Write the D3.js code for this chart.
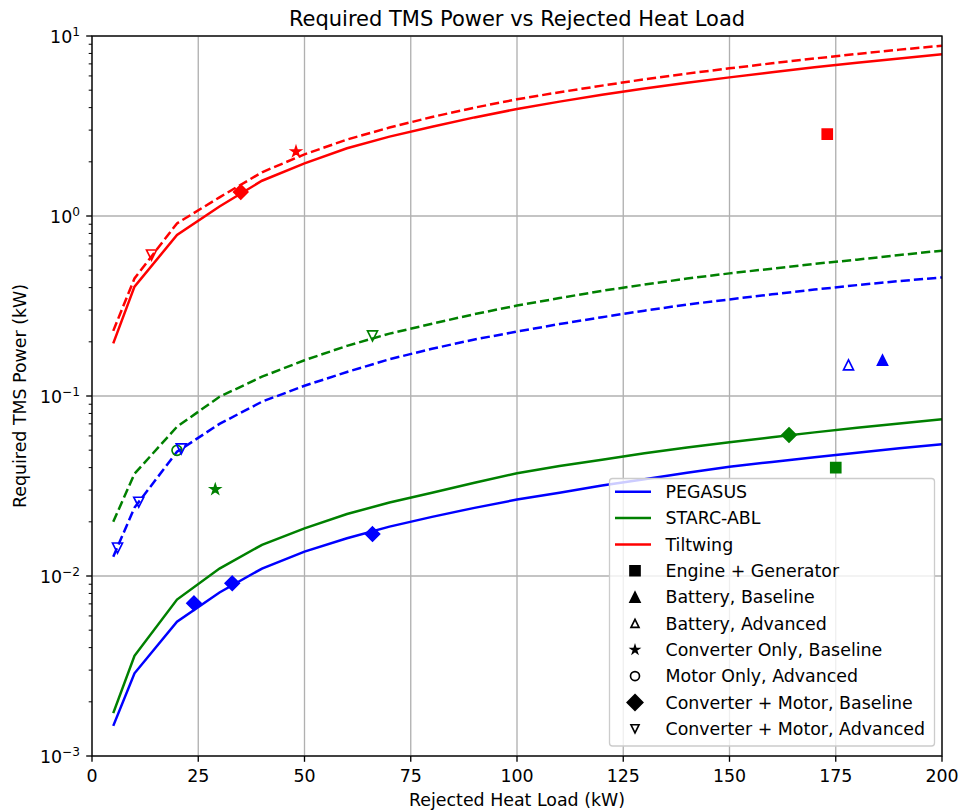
<!DOCTYPE html>
<html><head><meta charset="utf-8">
<script src="https://cdn.jsdelivr.net/npm/d3@7/dist/d3.min.js"></script>
<style>
body{margin:0;background:#fff}
text{font-family:"DejaVu Sans",sans-serif;fill:#000}
</style>
</head><body>
<svg id="chart" width="960" height="810"></svg>
<script>
// ---------- data ----------
const heatLoad = [5,10,20,30,40,50,60,70,80,90,100,110,120,130,140,150,160,170,180,190,200];
const pegasusBaseline  = [0.00147,0.00288,0.00557,0.0081,0.011,0.01365,0.0162,0.0188,0.0213,0.0239,0.0266,0.029,0.0318,0.0345,0.0375,0.0405,0.043,0.0457,0.0484,0.0512,0.054];
const pegasusAdvanced  = [0.0128,0.024,0.049,0.07,0.093,0.114,0.136,0.16,0.183,0.206,0.228,0.251,0.274,0.298,0.322,0.344,0.367,0.39,0.413,0.435,0.456];
const starcBaseline    = [0.00173,0.0036,0.0074,0.011,0.0149,0.0184,0.0221,0.0256,0.029,0.033,0.0372,0.0408,0.0443,0.0481,0.0517,0.0553,0.059,0.0628,0.0666,0.0704,0.0742];
const starcAdvanced    = [0.02,0.037,0.0675,0.099,0.128,0.158,0.19,0.222,0.252,0.285,0.318,0.35,0.384,0.416,0.449,0.48,0.51,0.542,0.572,0.607,0.642];
const tiltwingBaseline = [0.196,0.405,0.784,1.13,1.57,1.96,2.38,2.76,3.13,3.53,3.93,4.32,4.72,5.11,5.5,5.89,6.29,6.7,7.1,7.5,7.91];
const tiltwingAdvanced = [0.23,0.45,0.91,1.27,1.75,2.2,2.66,3.1,3.55,4.0,4.45,4.87,5.3,5.75,6.18,6.61,7.05,7.5,7.95,8.4,8.83];

const aircraft = ["PEGASUS","STARC-ABL","Tiltwing"];
const aircraftColors = ["#0000ff","#008000","#ff0000"];

// point markers: [aircraft, heat load, power]
const engineGenerator   = [["Tiltwing",173,2.85],["STARC-ABL",175,0.040]];
const batteryBaseline   = [["PEGASUS",186,0.158]];
const batteryAdvanced   = [["PEGASUS",178,0.149]];
const converterBaseline = [["Tiltwing",48,2.28],["STARC-ABL",29,0.0303]];
const motorAdvanced     = [["STARC-ABL",20,0.0499]];
const convMotorBaseline = [["Tiltwing",35,1.36],["STARC-ABL",164,0.0607],["PEGASUS",24,0.00705],["PEGASUS",33,0.0091],["PEGASUS",66,0.0171]];
const convMotorAdvanced = [["Tiltwing",14,0.607],["STARC-ABL",66,0.216],["PEGASUS",6,0.0143],["PEGASUS",11,0.0257],["PEGASUS",21,0.0508]];

const xTicks = [0,25,50,75,100,125,150,175,200];
const yTicks = [1e-3,1e-2,1e-1,1e0,1e1];
const yTickExp = ["\u22123","\u22122","\u22121","0","1"];

const titleText = "Required TMS Power vs Rejected Heat Load";
const xLabel = "Rejected Heat Load (kW)";
const yLabel = "Required TMS Power (kW)";

// ---------- layout ----------
const L = 92, R = 942, T = 36, B = 756;
const FS = 17.4;
const svg = d3.select("#chart");
const x = d3.scaleLinear().domain([0,200]).range([L,R]);
const y = d3.scaleLog().domain([1e-3,1e1]).range([B,T]);
const color = d3.scaleOrdinal().domain(aircraft).range(aircraftColors);

// grid
const grid = svg.append("g");
xTicks.forEach(v => grid.append("line").attr("x1",x(v)).attr("x2",x(v)).attr("y1",T).attr("y2",B)
  .attr("stroke","#b0b0b0").attr("stroke-width",1.33));
yTicks.forEach(v => grid.append("line").attr("x1",L).attr("x2",R).attr("y1",y(v)).attr("y2",y(v))
  .attr("stroke","#b0b0b0").attr("stroke-width",1.33));

// lines
const line = d3.line().x((d,i)=>x(heatLoad[i])).y(d=>y(d));
const series = [
  ["PEGASUS",pegasusBaseline,false],["PEGASUS",pegasusAdvanced,true],
  ["STARC-ABL",starcBaseline,false],["STARC-ABL",starcAdvanced,true],
  ["Tiltwing",tiltwingBaseline,false],["Tiltwing",tiltwingAdvanced,true]
];
series.forEach(([ac,vals,dash]) => {
  svg.append("path").attr("d",line(vals)).attr("fill","none")
    .attr("stroke",color(ac)).attr("stroke-width",2.5)
    .attr("stroke-dasharray",dash?"9.25,4":null);
});

// marker shapes
function markerPath(type,s){
  const h=s/2;
  switch(type){
    case "square": return `M${-h},${-h}h${s}v${s}h${-s}Z`;
    case "diamond": {const d=s*Math.SQRT1_2; return `M0,${-d}L${d},0L0,${d}L${-d},0Z`;}
    case "triUp": return `M0,${-h}L${h},${h}L${-h},${h}Z`;
    case "triDown": return `M0,${h}L${h},${-h}L${-h},${-h}Z`;
    case "circle": return `M${h},0A${h},${h} 0 1,1 ${-h},0A${h},${h} 0 1,1 ${h},0Z`;
    case "star": {
      let p=""; const ri=h*0.381966;
      for(let i=0;i<10;i++){const r=i%2?ri:h; const a=-Math.PI/2+i*Math.PI/5;
        p+=(i?"L":"M")+(r*Math.cos(a)).toFixed(2)+","+(r*Math.sin(a)).toFixed(2);}
      return p+"Z";
    }
  }
}
const markerSets = [
  [engineGenerator,"square",true,10],
  [batteryBaseline,"triUp",true,10],
  [batteryAdvanced,"triUp",false,10],
  [converterBaseline,"star",true,10],
  [motorAdvanced,"circle",false,10],
  [convMotorBaseline,"diamond",true,10],
  [convMotorAdvanced,"triDown",false,10]
];
markerSets.forEach(([pts,type,filled,s]) => {
  svg.append("g").selectAll("path").data(pts).join("path")
    .attr("d",markerPath(type,s))
    .attr("transform",d=>`translate(${x(d[1])},${y(d[2])})`)
    .attr("fill",d=>filled?color(d[0]):"none")
    .attr("stroke",d=>color(d[0])).attr("stroke-width",1.67)
    .attr("stroke-linejoin","miter");
});

// axes ticks
const ax = svg.append("g");
xTicks.forEach(v=>{
  ax.append("line").attr("x1",x(v)).attr("x2",x(v)).attr("y1",B).attr("y2",B+5.8).attr("stroke","#000").attr("stroke-width",1.33);
  ax.append("text").attr("x",x(v)).attr("y",B+26).attr("text-anchor","middle").attr("font-size",FS).text(v);
});
yTicks.forEach((v,i)=>{
  ax.append("line").attr("x1",L-5.8).attr("x2",L).attr("y1",y(v)).attr("y2",y(v)).attr("stroke","#000").attr("stroke-width",1.33);
  const t = ax.append("text").attr("x",L-12).attr("y",y(v)+7).attr("text-anchor","end").attr("font-size",FS);
  t.append("tspan").text("10");
  t.append("tspan").attr("dy",-7.5).attr("font-size",FS*0.7).text(yTickExp[i]);
  if(i<yTicks.length-1){
    for(let m=2;m<=9;m++){
      const yy=y(v*m);
      ax.append("line").attr("x1",L-3.3).attr("x2",L).attr("y1",yy).attr("y2",yy).attr("stroke","#000").attr("stroke-width",1);
    }
  }
});

// spines
svg.append("rect").attr("x",L).attr("y",T).attr("width",R-L).attr("height",B-T)
  .attr("fill","none").attr("stroke","#000").attr("stroke-width",1.33);

// labels
svg.append("text").attr("x",(L+R)/2).attr("y",26).attr("text-anchor","middle").attr("font-size",21).text(titleText);
svg.append("text").attr("x",(L+R)/2).attr("y",806).attr("text-anchor","middle").attr("font-size",FS).text(xLabel);
svg.append("text").attr("transform",`translate(26,${(T+B)/2}) rotate(-90)`).attr("text-anchor","middle").attr("font-size",FS).text(yLabel);

// legend
const legendItems = [
  {label:"PEGASUS",kind:"line",c:aircraftColors[0]},
  {label:"STARC-ABL",kind:"line",c:aircraftColors[1]},
  {label:"Tiltwing",kind:"line",c:aircraftColors[2]},
  {label:"Engine + Generator",kind:"square",filled:true},
  {label:"Battery, Baseline",kind:"triUp",filled:true},
  {label:"Battery, Advanced",kind:"triUp",filled:false,s:8},
  {label:"Converter Only, Baseline",kind:"star",filled:true,s:8},
  {label:"Motor Only, Advanced",kind:"circle",filled:false,s:9},
  {label:"Converter + Motor, Baseline",kind:"diamond",filled:true,s:11},
  {label:"Converter + Motor, Advanced",kind:"triDown",filled:false,s:8}
];
const lg = svg.append("g");
lg.append("rect").attr("x",609.5).attr("y",478.5).attr("width",325).attr("height",267.5).attr("rx",3)
  .attr("fill","#fff").attr("fill-opacity",0.8).attr("stroke","#cccccc").attr("stroke-width",1.33);
legendItems.forEach((d,i)=>{
  const cy = 491.7 + i*26.34;
  if(d.kind==="line"){
    lg.append("line").attr("x1",615).attr("x2",651).attr("y1",cy).attr("y2",cy).attr("stroke",d.c).attr("stroke-width",2.5);
  } else {
    lg.append("path").attr("d",markerPath(d.kind,d.s||10)).attr("transform",`translate(635,${cy})`)
      .attr("fill",d.filled?"#000":"none").attr("stroke","#000").attr("stroke-width",1.67);
  }
  lg.append("text").attr("x",665.5).attr("y",cy+6.3).attr("font-size",FS).text(d.label);
});
</script>
</body></html>
